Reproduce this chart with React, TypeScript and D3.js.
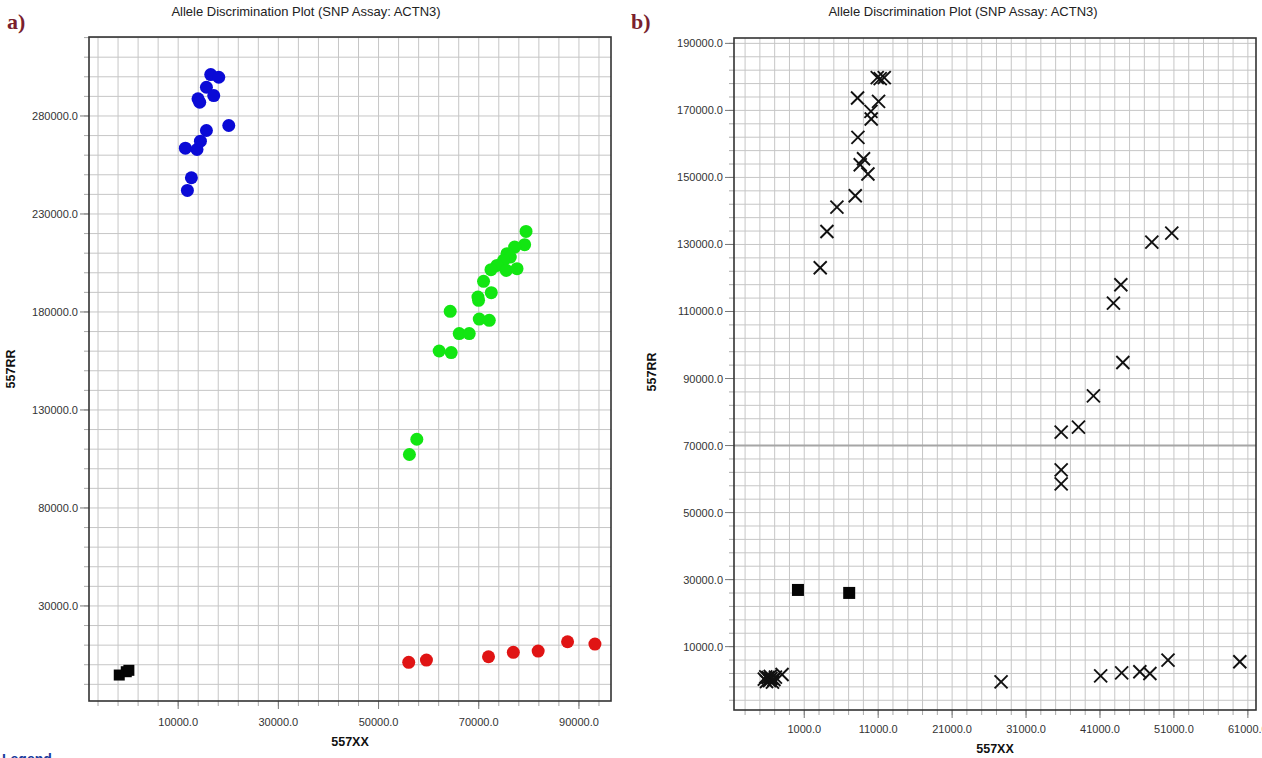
import React from "react";
import * as d3 from "d3";

// ---------- Panel a data ----------
const aXTicks = [10000, 30000, 50000, 70000, 90000];
const aYTicks = [30000, 80000, 130000, 180000, 230000, 280000];

const aBlueX = [16500, 18100, 15640, 17100, 13960, 14300, 15640, 20100, 11440, 13760, 14440, 12640, 11840];
const aBlueY = [301140, 299760, 294660, 290430, 288750, 287020, 272590, 275140, 263560, 262900, 267130, 248480, 242000];

const aGreenX = [79440, 79160, 77160, 75640, 76300, 74960, 73640, 72440, 75500, 77640, 70960, 72500, 69840, 69960, 64300, 70100, 72100, 66100, 68100, 62100, 64500, 57640, 56160];
const aGreenY = [221100, 214320, 213090, 209730, 208000, 206310, 203760, 201570, 201220, 202080, 195610, 189850, 187610, 185930, 180310, 176390, 175730, 168950, 168950, 160080, 159260, 115060, 107260];

const aRedX = [56020, 59560, 71950, 76900, 81860, 87730, 93190];
const aRedY = [1220, 2390, 4080, 6320, 6980, 11720, 10550];

const aNtcX = [-1760, -360, 160];
const aNtcY = [-5250, -3560, -2850];

// ---------- Panel b data ----------
const bXTicks = [1000, 11000, 21000, 31000, 41000, 51000, 61000];
const bYTicks = [10000, 30000, 50000, 70000, 90000, 110000, 130000, 150000, 170000, 190000];

const bTopX = [10870, 11275, 11820, 8210, 11050, 10020, 10060, 8260, 9020, 8570, 9610, 7900, 5420, 4070, 3160];
const bTopY = [179760, 179460, 179760, 173700, 172680, 169700, 167430, 161940, 155580, 153790, 151010, 144530, 141160, 133880, 123040];

const bMidX = [50710, 48010, 43820, 42820, 44090, 40110, 38090, 35750, 35750, 35750];
const bMidY = [133400, 130710, 117970, 112510, 94770, 84830, 75490, 74000, 62740, 58570];

const bLowX = [27620, 41090, 43930, 46390, 47750, 50200, 59910];
const bLowY = [-500, 1300, 2200, 2500, 2000, 6000, 5500];

const bZeroX = [-4400, -4100, -3900, -3700, -3500, -3300, -3600, -4200, -3100, -2900, -2000];
const bZeroY = [300, -400, 800, -100, 500, -600, 1100, 1000, 200, 900, 1700];

const bNtcX = [150, 7080];
const bNtcY = [26920, 26030];

const bThreshold = [70000];

const TITLE = "Allele Discrimination Plot (SNP Assay: ACTN3)";
const FONT = "'Liberation Sans', Arial, sans-serif";
const fmt = d3.format(".1f");

type Cfg = {
  left: number; right: number; top: number; bottom: number;
  xDomain: [number, number]; yDomain: [number, number];
  xTicks: number[]; yTicks: number[]; xStep: number; yStep: number;
  titleX: number; letter: string; letterX: number;
  xLabelY: number; xTitleY: number; yTitleX: number; yTitleY: number;
};

function gridVals(start: number, step: number, dom: [number, number]) {
  const out: number[] = [];
  for (let v = start; v <= dom[1]; v += step) out.push(v);
  for (let v = start - step; v >= dom[0]; v -= step) out.push(v);
  return out;
}

function Frame({ c, children, hLines = [] as number[] }: { c: Cfg; children: any; hLines?: number[] }) {
  const x = d3.scaleLinear().domain(c.xDomain).range([c.left, c.right]);
  const y = d3.scaleLinear().domain(c.yDomain).range([c.bottom, c.top]);
  const xg = gridVals(c.xTicks[0], c.xStep, c.xDomain);
  const yg = gridVals(c.yTicks[0], c.yStep, c.yDomain);
  return (
    <g>
      <text x={c.letterX} y={29} fontFamily="'Liberation Serif', 'Times New Roman', serif" fontWeight="bold" fontSize={22} fill="#7a1f2e">{c.letter}</text>
      <text x={c.titleX} y={16} textAnchor="middle" fontFamily={FONT} fontSize={13} fill="#222">{TITLE}</text>
      <rect x={c.left} y={c.top} width={c.right - c.left} height={c.bottom - c.top} fill="#fff" />
      {xg.map((v, i) => (
        <g key={"xg" + i}>
          <line x1={x(v)} x2={x(v)} y1={c.top} y2={c.bottom} stroke="#c6c6c6" strokeWidth={1} />
          <line x1={x(v)} x2={x(v)} y1={c.bottom} y2={c.bottom + 5} stroke="#aaa" strokeWidth={1} />
        </g>
      ))}
      {yg.map((v, i) => (
        <g key={"yg" + i}>
          <line x1={c.left} x2={c.right} y1={y(v)} y2={y(v)} stroke="#c6c6c6" strokeWidth={1} />
          <line x1={c.left - 5} x2={c.left} y1={y(v)} y2={y(v)} stroke="#aaa" strokeWidth={1} />
        </g>
      ))}
      {hLines.map((v, i) => (
        <line key={"hl" + i} x1={c.left} x2={c.right} y1={y(v)} y2={y(v)} stroke="#a6a6a6" strokeWidth={2} />
      ))}
      {c.xTicks.map((v, i) => (
        <g key={"xt" + i}>
          <line x1={x(v)} x2={x(v)} y1={c.bottom} y2={c.bottom + 8} stroke="#777" strokeWidth={1} />
          <text x={x(v)} y={c.xLabelY} textAnchor="middle" fontFamily={FONT} fontSize={11} fill="#333">{fmt(v)}</text>
        </g>
      ))}
      {c.yTicks.map((v, i) => (
        <g key={"yt" + i}>
          <line x1={c.left - 9} x2={c.left} y1={y(v)} y2={y(v)} stroke="#777" strokeWidth={1} />
          <text x={c.left - 11} y={y(v) + 4} textAnchor="end" fontFamily={FONT} fontSize={11} fill="#333">{fmt(v)}</text>
        </g>
      ))}
      {children(x, y)}
      <rect x={c.left} y={c.top} width={c.right - c.left} height={c.bottom - c.top} fill="none" stroke="#333" strokeWidth={1.6} />
      <text x={(c.left + c.right) / 2} y={c.xTitleY} textAnchor="middle" fontFamily={FONT} fontWeight="bold" fontSize={12.5} fill="#111">557XX</text>
      <text transform={`translate(${c.yTitleX},${c.yTitleY}) rotate(-90)`} textAnchor="middle" fontFamily={FONT} fontWeight="bold" fontSize={12.5} fill="#111">557RR</text>
    </g>
  );
}

const cfgA: Cfg = {
  left: 89, right: 611, top: 37, bottom: 701,
  xDomain: [-7800, 96400], yDomain: [-18500, 320300],
  xTicks: aXTicks, yTicks: aYTicks, xStep: 4000, yStep: 10000,
  titleX: 306, letter: "a)", letterX: 7,
  xLabelY: 726, xTitleY: 746, yTitleX: 15, yTitleY: 369,
};

const cfgB: Cfg = {
  left: 734, right: 1256, top: 38, bottom: 710,
  xDomain: [-8500, 62100], yDomain: [-8900, 191600],
  xTicks: bXTicks, yTicks: bYTicks, xStep: 2000, yStep: 4000,
  titleX: 963, letter: "b)", letterX: 631,
  xLabelY: 733, xTitleY: 753, yTitleX: 656, yTitleY: 372,
};

function dots(xs: number[], ys: number[], fill: string, x: any, y: any, key: string) {
  return xs.map((v, i) => <circle key={key + i} cx={x(v)} cy={y(ys[i])} r={6.5} fill={fill} />);
}
function squares(xs: number[], ys: number[], x: any, y: any, key: string, s = 11) {
  return xs.map((v, i) => <rect key={key + i} x={x(v) - s / 2} y={y(ys[i]) - s / 2} width={s} height={s} fill="#050505" />);
}
function crosses(xs: number[], ys: number[], x: any, y: any, key: string) {
  const h = 6.5;
  return xs.map((v, i) => {
    const cx = x(v), cy = y(ys[i]);
    return (
      <g key={key + i} stroke="#111" strokeWidth={1.9}>
        <line x1={cx - h} y1={cy - h} x2={cx + h} y2={cy + h} />
        <line x1={cx - h} y1={cy + h} x2={cx + h} y2={cy - h} />
      </g>
    );
  });
}

export default function App() {
  return (
    <svg width={1262} height={758} style={{ position: "absolute", left: 0, top: 0, background: "#fff" }}>
      <rect x={0} y={0} width={1262} height={758} fill="#fff" />
      <Frame c={cfgA}>
        {(x: any, y: any) => (
          <g>
            {dots(aBlueX, aBlueY, "#0a0ad6", x, y, "bl")}
            {dots(aGreenX, aGreenY, "#12e612", x, y, "gr")}
            {dots(aRedX, aRedY, "#e01414", x, y, "rd")}
            {squares(aNtcX, aNtcY, x, y, "na")}
          </g>
        )}
      </Frame>
      <Frame c={cfgB} hLines={bThreshold}>
        {(x: any, y: any) => (
          <g>
            {crosses(bTopX, bTopY, x, y, "t")}
            {crosses(bMidX, bMidY, x, y, "m")}
            {crosses(bLowX, bLowY, x, y, "l")}
            {crosses(bZeroX, bZeroY, x, y, "z")}
            {squares(bNtcX, bNtcY, x, y, "nb", 12)}
          </g>
        )}
      </Frame>
      <text x={2} y={764} fontFamily={FONT} fontSize={14} fontWeight="bold" fill="#1a3a9c">Legend</text>
    </svg>
  );
}
